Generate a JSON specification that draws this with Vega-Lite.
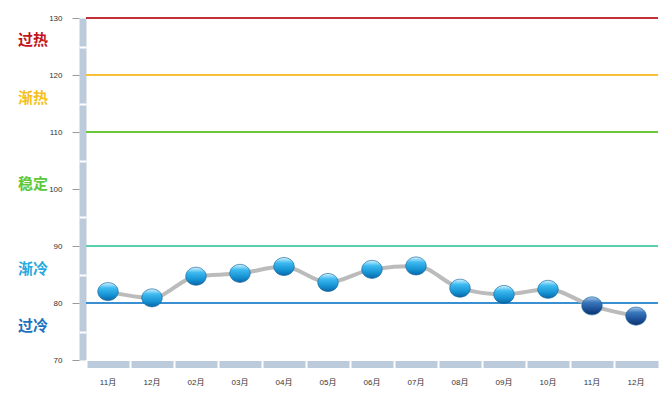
{
  "$schema": "https://vega.github.io/schema/vega-lite/v6.json",
  "width": 572,
  "height": 342,
  "autosize": "none",
  "padding": {"left": 86, "top": 18, "right": 10, "bottom": 36},
  "background": "white",
  "config": {
    "view": {"stroke": null},
    "font": "Liberation Sans, Noto Sans CJK SC",
    "axis": {"grid": false, "title": null}
  },
  "datasets": {
    "series": [
      {"period": "2023-11", "value": 82.0},
      {"period": "2023-12", "value": 80.9},
      {"period": "2024-02", "value": 84.7},
      {"period": "2024-03", "value": 85.2},
      {"period": "2024-04", "value": 86.4},
      {"period": "2024-05", "value": 83.6},
      {"period": "2024-06", "value": 85.9},
      {"period": "2024-07", "value": 86.5},
      {"period": "2024-08", "value": 82.6},
      {"period": "2024-09", "value": 81.5},
      {"period": "2024-10", "value": 82.4},
      {"period": "2024-11", "value": 79.5},
      {"period": "2024-12", "value": 77.7}
    ],
    "thresholds": [
      {"level": "过热", "value": 130},
      {"level": "渐热", "value": 120},
      {"level": "稳定", "value": 110},
      {"level": "渐冷", "value": 90},
      {"level": "过冷", "value": 80}
    ]
  },
  "resolve": {"axis": {"x": "independent", "y": "independent"}},
  "layer": [
    {
      "data": {"name": "thresholds"},
      "mark": {"type": "rule", "strokeWidth": 2},
      "encoding": {
        "y": {
          "field": "value", "type": "quantitative",
          "scale": {"domain": [70, 130], "nice": false, "zero": false},
          "axis": {
            "orient": "left",
            "offset": 3.5,
            "domain": true,
            "domainWidth": 7,
            "domainColor": "#bccbdb",
            "ticks": false,
            "tickSize": 0,
            "values": [126.3, 116, 101, 86.1, 76.1],
            "labelExpr": "datum.value > 120 ? '过热' : datum.value > 110 ? '渐热' : datum.value > 90 ? '稳定' : datum.value > 80 ? '渐冷' : '过冷'",
            "labelFont": "Noto Sans CJK SC",
            "labelFontWeight": "bold",
            "labelFontSize": 15,
            "labelPadding": 35,
            "labelColor": {
              "condition": [
                {"test": "datum.value > 120", "value": "#c0141e"},
                {"test": "datum.value > 110", "value": "#f5c01e"},
                {"test": "datum.value > 90", "value": "#5cc83a"},
                {"test": "datum.value > 80", "value": "#26a8e0"}
              ],
              "value": "#1a72be"
            }
          }
        },
        "stroke": {
          "field": "level", "type": "nominal",
          "scale": {"domain": ["过热", "渐热", "稳定", "渐冷", "过冷"], "range": ["#c43038", "#f7bf3a", "#6cc83a", "#5ccfae", "#3a8fd0"]},
          "legend": null
        }
      }
    },
    {
      "data": {"name": "series"},
      "mark": {"type": "line", "interpolate": "monotone", "color": "#b4b4b4", "strokeWidth": 4, "opacity": 0.9},
      "encoding": {
        "x": {
          "field": "period", "type": "ordinal",
          "scale": {"type": "band", "paddingInner": 0, "paddingOuter": 0},
          "axis": {
            "orient": "bottom",
            "offset": 4,
            "domain": true,
            "domainWidth": 7,
            "domainColor": "#bccbdb",
            "ticks": false,
            "tickSize": 0,
            "labelAngle": 0,
            "labelExpr": "substring(datum.value, 5) + '月'",
            "labelFontSize": 8,
            "labelColor": "#333333",
            "labelPadding": 14
          }
        },
        "y": {
          "field": "value", "type": "quantitative",
          "axis": {
            "orient": "left",
            "offset": 7,
            "domain": false,
            "values": [70, 80, 90, 100, 110, 120, 130],
            "tickSize": 7,
            "tickColor": "#9a9a9a",
            "tickWidth": 1,
            "labelFontSize": 8,
            "labelColor": "#333333",
            "labelPadding": 10
          }
        }
      }
    },
    {
      "data": {"name": "series"},
      "mark": {
        "type": "point",
        "filled": true,
        "shape": "M -1 0 A 1 0.88 0 1 1 1 0 A 1 0.88 0 1 1 -1 0 Z",
        "size": 420,
        "stroke": "#0b5c94",
        "strokeWidth": 0.6,
        "opacity": 1
      },
      "encoding": {
        "x": {
          "field": "period", "type": "ordinal",
          "axis": {
            "orient": "bottom",
            "offset": 0,
            "domain": false,
            "labels": false,
            "bandPosition": 0,
            "tickSize": 8,
            "tickWidth": 2,
            "tickColor": "white",
            "zindex": 1
          }
        },
        "y": {
          "field": "value", "type": "quantitative",
          "axis": {
            "orient": "left",
            "offset": 0,
            "domain": false,
            "labels": false,
            "values": [75, 85, 95, 105, 115, 125],
            "tickSize": 7,
            "tickWidth": 2,
            "tickColor": "white",
            "zindex": 1
          }
        },
        "fill": {
          "condition": {
            "test": "datum.value < 80",
            "value": {"gradient": "linear", "x1": 0, "y1": 0, "x2": 0, "y2": 1, "stops": [
              {"offset": 0, "color": "#a9c8ea"},
              {"offset": 0.3, "color": "#3a78bd"},
              {"offset": 0.7, "color": "#1c4f95"},
              {"offset": 1, "color": "#0d3470"}
            ]}
          },
          "value": {"gradient": "linear", "x1": 0, "y1": 0, "x2": 0, "y2": 1, "stops": [
            {"offset": 0, "color": "#d6f3ff"},
            {"offset": 0.3, "color": "#3dbaf0"},
            {"offset": 0.7, "color": "#1592d2"},
            {"offset": 1, "color": "#0a66a8"}
          ]}
        }
      }
    }
  ]
}
